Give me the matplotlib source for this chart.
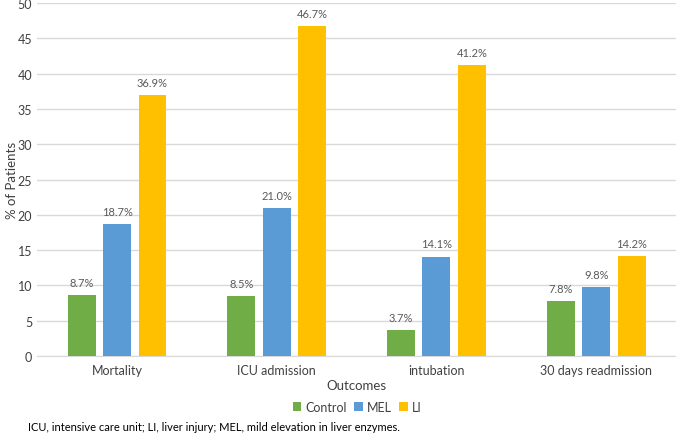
import matplotlib
matplotlib.use("Agg")
import matplotlib.pyplot as plt
import numpy as np

categories = ["Mortality", "ICU admission", "intubation", "30 days readmission"]
control = [8.7, 8.5, 3.7, 7.8]
mel = [18.7, 21.0, 14.1, 9.8]
li = [36.9, 46.7, 41.2, 14.2]
series_names = ["Control", "MEL", "LI"]
colors = ["#70AD47", "#5B9BD5", "#FFC000"]
yticks = [0, 5, 10, 15, 20, 25, 30, 35, 40, 45, 50]

plt.rcParams['font.family'] = ['Lato', 'DejaVu Sans']

fig = plt.figure(figsize=(6.76, 4.35), dpi=100)
ax = fig.add_axes([0.055, 0.179, 0.945, 0.812])

x = np.arange(len(categories))
w = 0.175
step = 0.222
for i, (vals, name, c) in enumerate(zip([control, mel, li], series_names, colors)):
    pos = x + (i - 1) * step
    bars = ax.bar(pos, vals, width=w, color=c, label=name, zorder=3)
    for p, v in zip(pos, vals):
        ax.text(p, v + 1.0, f"{v:.1f}%", ha="center", va="bottom", fontsize=8, color="#595959")

ax.set_xlim(-0.5, len(categories) - 0.5)
ax.set_ylim(0, 50)
ax.set_yticks(yticks)
ax.set_xticks(x)
ax.set_xticklabels(categories)
ax.tick_params(axis="both", length=0, labelsize=9, colors="#404040")
ax.tick_params(axis="x", pad=6)
ax.grid(axis="y", color="#D9D9D9", linewidth=1, zorder=0)
for s in ["top", "right", "left"]:
    ax.spines[s].set_visible(False)
ax.spines["bottom"].set_color("#D9D9D9")
ax.set_ylabel("% of Patients", fontsize=9.5, color="#404040")
ax.yaxis.set_label_coords(-0.03, 0.5)
ax.set_xlabel("Outcomes", fontsize=9.5, color="#404040", labelpad=2)

fig.legend(loc="center", bbox_to_anchor=(0.528, 0.062), ncol=3, frameon=False,
           fontsize=9, handlelength=0.7, handleheight=0.7, handletextpad=0.3,
           columnspacing=0.6, labelcolor="#404040")

fig.text(0.042, 0.018, "ICU, intensive care unit; LI, liver injury; MEL, mild elevation in liver enzymes.",
         fontsize=8, color="#000000", ha="left", va="center")

fig.savefig("out.png", dpi=100)
